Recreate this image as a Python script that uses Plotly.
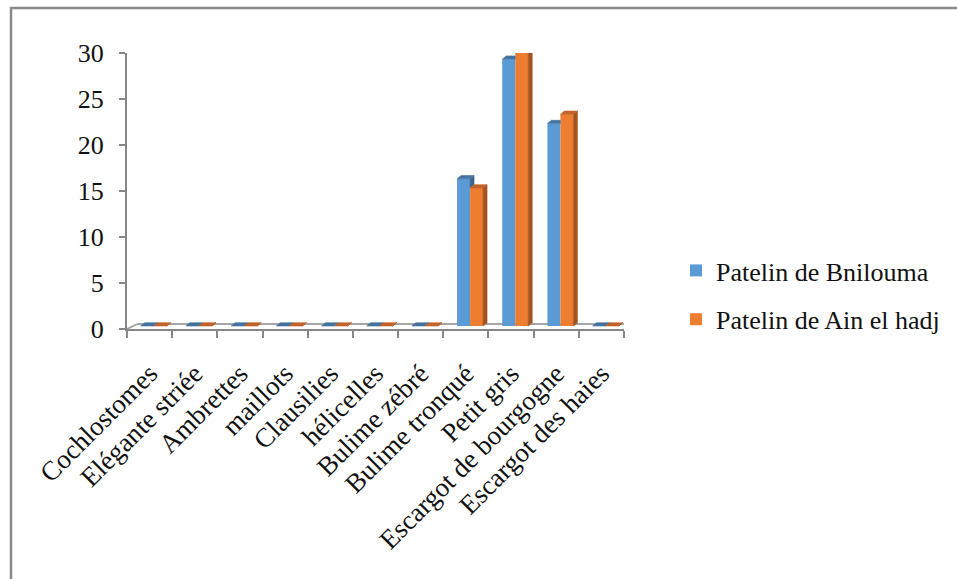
import plotly.graph_objects as go

# Snail groups counted in two villages
categories = ["Cochlostomes", "Elégante striée", "Ambrettes", "maillots", "Clausilies",
              "hélicelles", "Bulime zébré", "Bulime tronqué", "Petit gris",
              "Escargot de bourgogne", "Escargot des haies"]
bnilouma = [0, 0, 0, 0, 0, 0, 0, 16, 29, 22, 0]
ain_el_hadj = [0, 0, 0, 0, 0, 0, 0, 15, 30, 23, 0]
series_names = ["Patelin de Bnilouma", "Patelin de Ain el hadj"]
y_ticks = [0, 5, 10, 15, 20, 25, 30]

# colours of the front, top and side faces
BLUE, BLUE_TOP, BLUE_SIDE = "#5b9bd5", "#44739f", "#3b6690"
ORANGE, ORANGE_TOP, ORANGE_SIDE = "#ed7d31", "#c2632a", "#a4531f"
AXIS = "#878787"
FONT = "Liberation Serif"

# bar geometry in axis units
W = 0.288            # width of one column
OFF_B = -0.195       # left edge of the blue column relative to the category
OFF_O = OFF_B + W    # left edge of the orange column
DX, DY = 0.088, 0.36 # depth of the 3-D extrusion
Y_SHIFT = 0.326      # value axis sits slightly in front of the column base
FLOOR_DX, FLOOR_BACK = 0.221, 0.54

xs = list(range(len(categories)))


def poly_trace(polys, color):
    px, py = [], []
    for p in polys:
        for (a, b) in p:
            px.append(a)
            py.append(b)
        px.append(p[0][0]); py.append(p[0][1])
        px.append(None); py.append(None)
    return go.Scatter(x=px, y=py, mode="lines", fill="toself", fillcolor=color,
                      line=dict(color=color, width=0.6), hoverinfo="skip",
                      showlegend=False, cliponaxis=False)


blue_tops, blue_sides, orange_tops, orange_sides = [], [], [], []
for i, vb, vo in zip(xs, bnilouma, ain_el_hadj):
    x0 = i + OFF_B
    x1 = i + OFF_O
    x2 = x1 + W
    # blue top: the part behind a taller orange column is hidden
    if vb >= vo:
        blue_tops.append([(x0, vb), (x1, vb), (x1 + DX, vb + DY), (x0 + DX, vb + DY)])
    else:
        blue_tops.append([(x0, vb), (x1, vb), (x1, vb + DY), (x0 + DX, vb + DY)])
    # blue side only shows above the orange column
    if vb > vo:
        blue_sides.append([(x1, vo), (x1, vb), (x1 + DX, vb + DY), (x1 + DX, vo + DY)])
    orange_tops.append([(x1, vo), (x2, vo), (x2 + DX, vo + DY), (x1 + DX, vo + DY)])
    orange_sides.append([(x2, 0), (x2, vo), (x2 + DX, vo + DY), (x2 + DX, DY)])

fig = go.Figure()

fig.add_trace(go.Bar(x=xs, y=bnilouma, name=series_names[0], width=W, offset=OFF_B,
                     marker=dict(color=BLUE, line=dict(width=0)), cliponaxis=False,
                     legendgroup="a"))
fig.add_trace(go.Bar(x=xs, y=ain_el_hadj, name=series_names[1], width=W, offset=OFF_O,
                     marker=dict(color=ORANGE, line=dict(width=0)), cliponaxis=False,
                     legendgroup="b"))
if blue_sides:
    fig.add_trace(poly_trace(blue_sides, BLUE_SIDE))
fig.add_trace(poly_trace(blue_tops, BLUE_TOP))
fig.add_trace(poly_trace(orange_sides, ORANGE_SIDE))
fig.add_trace(poly_trace(orange_tops, ORANGE_TOP))
# carrier for the visible value axis
fig.add_trace(go.Scatter(x=[], y=[], yaxis="y2", showlegend=False, hoverinfo="skip"))

n = len(categories)
# floor of the 3-D plot, drawn behind the columns
floor_lines = [
    (n - 0.5, -Y_SHIFT, n - 0.5 + FLOOR_DX, FLOOR_BACK - Y_SHIFT),
    (-0.5, -Y_SHIFT, -0.5 + FLOOR_DX, FLOOR_BACK - Y_SHIFT),
    (-0.5 + FLOOR_DX, FLOOR_BACK - Y_SHIFT, n - 0.5 + FLOOR_DX, FLOOR_BACK - Y_SHIFT),
    (n - 0.5 + FLOOR_DX, FLOOR_BACK - Y_SHIFT, n - 0.5 + FLOOR_DX, FLOOR_BACK - Y_SHIFT - 0.45),
]
shapes = []
for (a, b, c, d) in floor_lines:
    shapes.append(dict(type="line", xref="x", yref="y", x0=a, y0=b, x1=c, y1=d,
                       line=dict(color="#a6a6a6", width=2), layer="below"))

# chart border
L, T, PW, PH = 127, 53, 497, 276
def px_x(p):
    return (p - L) / PW
def px_y(p):
    return (T + PH - p) / PH
shapes.append(dict(type="rect", xref="paper", yref="paper",
                   x0=px_x(11), y0=px_y(8), x1=px_x(975), y1=px_y(600),
                   line=dict(color="#8a8a8a", width=2.5), layer="above"))

fig.update_layout(
    width=957, height=579,
    margin=dict(l=L, r=957 - L - PW, t=T, b=579 - T - PH, autoexpand=False),
    paper_bgcolor="white", plot_bgcolor="white",
    barmode="overlay",
    showlegend=True,
    font=dict(family=FONT, size=26, color="#111111"),
    xaxis=dict(range=[-0.5, n - 0.5], tickmode="array", tickvals=xs, ticktext=categories,
               ticks="", tickangle=-45, showgrid=False, zeroline=False,
               showline=True, linecolor=AXIS, linewidth=2, automargin=False,
               ticklabelstandoff=16,
               tickfont=dict(family=FONT, size=27, color="#111111"),
               minor=dict(tickmode="array", tickvals=[i - 0.5 for i in range(n + 1)],
                          ticks="outside", ticklen=7, tickwidth=2, tickcolor=AXIS,
                          showgrid=False)),
    yaxis=dict(range=[-Y_SHIFT, 30 - Y_SHIFT], visible=False, fixedrange=True),
    yaxis2=dict(range=[0, 30], overlaying="y", side="left", anchor="x",
                tickmode="array", tickvals=y_ticks, ticks="outside", ticklen=6,
                tickwidth=2, tickcolor=AXIS, showline=True, linecolor=AXIS, linewidth=2,
                showgrid=False, zeroline=False, ticklabelstandoff=10, automargin=False,
                tickfont=dict(family=FONT, size=26, color="#111111")),
    legend=dict(x=px_x(676), y=px_y(247), xanchor="left", yanchor="top",
                font=dict(family=FONT, size=26, color="#111111"),
                tracegroupgap=12, bgcolor="rgba(0,0,0,0)"),
    shapes=shapes,
)

fig.write_html("out.html")
